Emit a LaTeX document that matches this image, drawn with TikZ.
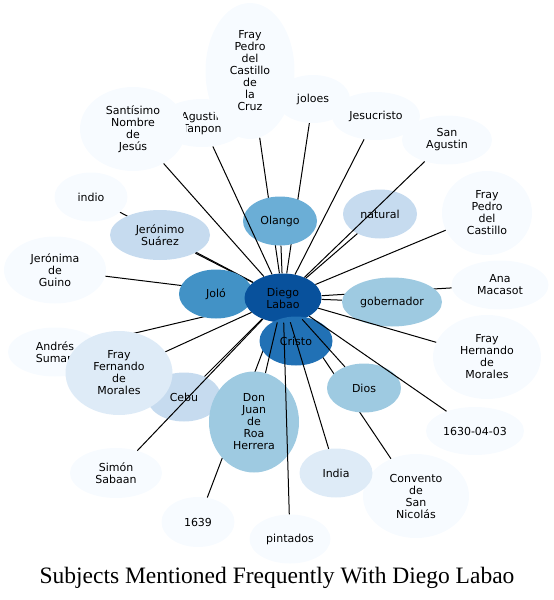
\documentclass[tikz,border=0pt]{standalone}
\usepackage{fontspec}
\newfontfamily\dejavu{DejaVu Sans}
\newfontfamily\titlefont{Liberation Serif}
\usetikzlibrary{shapes.geometric}
\pgfdeclarelayer{back}
\pgfdeclarelayer{front}
\pgfsetlayers{back,main,front}
\definecolor{b0}{HTML}{F7FBFF}
\definecolor{b1}{HTML}{DEEBF7}
\definecolor{b2}{HTML}{C6DBEF}
\definecolor{b3}{HTML}{9ECAE1}
\definecolor{b4}{HTML}{6BAED6}
\definecolor{b5}{HTML}{4292C6}
\definecolor{b6}{HTML}{2171B5}
\definecolor{b7}{HTML}{08519C}
\tikzset{
  nd/.style={ellipse, inner sep=0pt, align=center, draw=none,
    font=\dejavu\fontsize{11}{12}\selectfont},
  sz/.style 2 args={minimum width=#1pt, minimum height=#2pt},
  ed/.style={draw=black, line width=1pt}
}
\begin{document}
\begin{tikzpicture}[x=1pt,y=-1pt]
\useasboundingbox (0,0) rectangle (554,600);
% lightest nodes
\node[nd, fill=b0, sz={88}{48}] (agt) at (202,123) {Agustin\\Tanpon};
\node[nd, fill=b0, sz={106}{84}] (snj) at (133,129) {Santísimo\\Nombre\\de\\Jesús};
\node[nd, fill=b0, sz={89}{136}] (fpc) at (250,71) {Fray\\Pedro\\del\\Castillo\\de\\la\\Cruz};
\node[nd, fill=b0, sz={74}{48}] (jol) at (313,99) {joloes};
\node[nd, fill=b0, sz={88}{48}] (jes) at (376,116) {Jesucristo};
\node[nd, fill=b0, sz={90}{49}] (sag) at (447,140) {San\\Agustin};
\node[nd, fill=b0, sz={90}{84}] (fpd) at (487,213) {Fray\\Pedro\\del\\Castillo};
\node[nd, fill=b0, sz={97}{49}] (ana) at (500,285) {Ana\\Macasot};
\node[nd, fill=b0, sz={108}{84}] (fhm) at (487,357) {Fray\\Hernando\\de\\Morales};
\node[nd, fill=b0, sz={98}{48}] (d16) at (475,431) {1630-04-03};
\node[nd, fill=b0, sz={106}{84}] (con) at (416,496) {Convento\\de\\San\\Nicolás};
\node[nd, fill=b0, sz={81}{49}] (pin) at (290,539) {pintados};
\node[nd, fill=b0, sz={73}{50}] (y39) at (198,522) {1639};
\node[nd, fill=b0, sz={92}{50}] (sim) at (116,473) {Simón\\Sabaan};
\node[nd, fill=b0, sz={94}{49}] (and) at (55,352) {Andrés\\Suman};
\node[nd, fill=b0, sz={102}{67}] (jgu) at (55,270) {Jerónima\\de\\Guino};
\node[nd, fill=b0, sz={73}{49}] (ind) at (91,197) {indio};
% coloured nodes
\node[nd, fill=b1, sz={73}{49}] (inA) at (336,473) {India};
\node[nd, fill=b2, sz={74}{49}] (ceb) at (184,397) {Cebu};
\node[nd, fill=b1, sz={107}{84}] (ffm) at (119,373) {Fray\\Fernando\\de\\Morales};
\node[nd, fill=b3, sz={90}{101}] (djr) at (254,422) {Don\\Juan\\de\\Roa\\Herrera};
\node[nd, fill=b3, sz={74}{49}] (dio) at (364,388) {Dios};
\node[nd, fill=b2, sz={100}{50}] (jsu) at (160,235) {Jerónimo\\Suárez};
\node[nd, fill=b5, sz={74}{49}] (jlo) at (216,294) {Joló};
\node[nd, fill=b7, sz={77}{49}] (dl) at (283,298) {Diego\\Labao};
\node[nd, fill=b6, sz={73}{49}] (cri) at (296,341) {Cristo};
\node[nd, fill=b4, sz={74}{49}] (ola) at (280,221) {Olango};
\node[nd, fill=b2, sz={74}{49}] (nat) at (380,214) {natural};
\node[nd, fill=b3, sz={100}{49}] (gob) at (392,302) {gobernador};
% edges hidden behind nodes
\begin{pgfonlayer}{back}
\foreach \t in {and,ind,jsu,jgu,y39,con,fpc,jol,ana,cri,jlo}
  \draw[ed] (dl) -- (\t);
\end{pgfonlayer}
% edges drawn over nodes
\begin{pgfonlayer}{front}
\foreach \t in {snj,agt,jes,sag,nat,fpd,gob,fhm,d16,dio,inA,pin,djr,ceb,sim,ffm,ola}
  \draw[ed] (dl) -- (\t);
\end{pgfonlayer}
\node[font=\titlefont\fontsize{23.5}{28}\selectfont, inner sep=0pt] (title) at (277,578) {Subjects Mentioned Frequently With Diego Labao};
\end{tikzpicture}
\end{document}
